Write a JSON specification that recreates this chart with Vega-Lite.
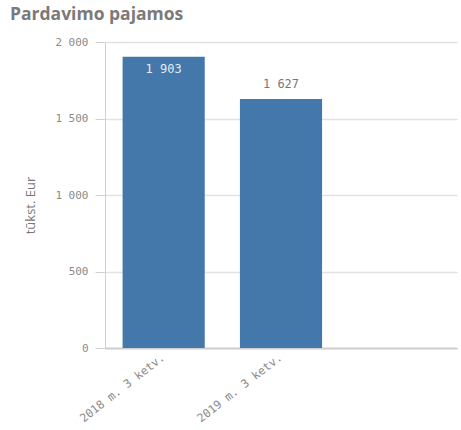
{
  "$schema": "https://vega.github.io/schema/vega-lite/v6.json",
  "autosize": "none",
  "width": 352,
  "height": 306,
  "padding": {"left": 105, "top": 42, "right": 4, "bottom": 82},
  "background": "white",
  "title": {
    "text": "Pardavimo pajamos",
    "anchor": "start",
    "frame": "group",
    "dx": -95,
    "offset": 13,
    "fontSize": 17.5,
    "font": "Open Sans",
    "fontWeight": "bold",
    "color": "#7a7a7a"
  },
  "data": {
    "values": [
      {"period": "2018 m. 3 ketv.", "value": 1903},
      {"period": "2019 m. 3 ketv.", "value": 1627}
    ]
  },
  "encoding": {
    "x": {
      "field": "period",
      "type": "nominal",
      "sort": null,
      "scale": {"domain": ["2018 m. 3 ketv.", "2019 m. 3 ketv.", " "], "paddingInner": 0.3, "paddingOuter": 0.15},
      "axis": {
        "title": null,
        "labelAngle": -38,
        "labelAlign": "right",
        "labelBaseline": "middle",
        "labelFont": "DejaVu Sans Mono",
        "labelFontSize": 11.5,
        "labelColor": "#8a8a8a",
        "ticks": false,
        "labelPadding": 8,
        "domainColor": "#d0d0d0",
        "domainWidth": 2,
        "grid": false
      }
    },
    "y": {
      "field": "value",
      "type": "quantitative",
      "scale": {"domain": [0, 2000]},
      "axis": {
        "title": "tūkst. Eur",
        "titleFont": "Open Sans",
        "titleFontWeight": "normal",
        "titleFontSize": 13,
        "titleColor": "#777777",
        "titleX": -75,
        "titleY": 163,
        "titleBaseline": "middle",
        "titleAngle": -90,
        "tickCount": 5,
        "format": ",d",
        "labelFont": "DejaVu Sans Mono",
        "labelFontSize": 11,
        "labelColor": "#8a8a8a",
        "tickSize": 10,
        "tickColor": "#d0d0d0",
        "labelPadding": 7,
        "domainColor": "#d0d0d0",
        "gridColor": "#e2e2e2",
        "gridWidth": 1.5
      }
    }
  },
  "layer": [
    {"mark": {"type": "bar", "color": "#4477aa"}},
    {
      "transform": [{"filter": "datum.value >= 1800"}],
      "mark": {"type": "text", "dy": 12, "font": "DejaVu Sans Mono", "fontSize": 12, "color": "#e6ecf3", "baseline": "middle"},
      "encoding": {"text": {"field": "value", "type": "quantitative", "format": ",d"}}
    },
    {
      "transform": [{"filter": "datum.value < 1800"}],
      "mark": {"type": "text", "dy": -15, "font": "DejaVu Sans Mono", "fontSize": 12, "color": "#777777", "baseline": "middle"},
      "encoding": {"text": {"field": "value", "type": "quantitative", "format": ",d"}}
    }
  ],
  "config": {
    "locale": {"number": {"decimal": ",", "thousands": "\u2009", "grouping": [3], "currency": ["", " €"]}},
    "view": {"stroke": null}
  }
}
